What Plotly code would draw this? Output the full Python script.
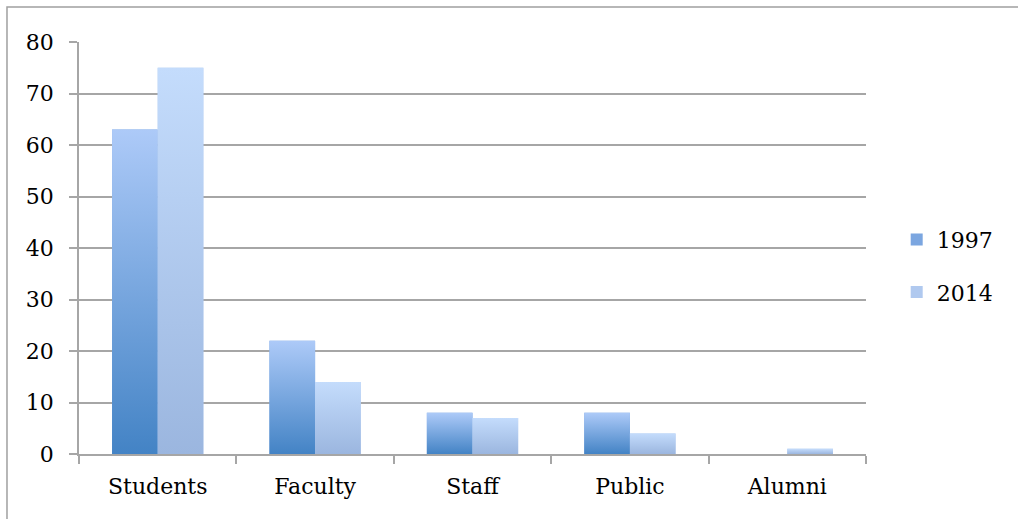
import plotly.graph_objects as go

categories = ["Students", "Faculty", "Staff", "Public", "Alumni"]
series_names = ["1997", "2014"]
values_1997 = [63, 22, 8, 8, 0]
values_2014 = [75, 14, 7, 4, 1]
y_ticks = [0, 10, 20, 30, 40, 50, 60, 70, 80]

FONT = "DejaVu Serif"
FS = 22
BAR_W = 0.29
grad = {
    "1997": ("#4383c5", "#adcaf8", "#7ba6e0"),
    "2014": ("#9bb6df", "#c4dcfc", "#b0c9ef"),
}
offsets = {"1997": -BAR_W, "2014": 0.0}

fig = go.Figure()
idx = list(range(len(categories)))

for name, vals in zip(series_names, [values_1997, values_2014]):
    bottom, top, mid = grad[name]
    fig.add_trace(go.Bar(
        x=idx, y=vals, name=name, width=BAR_W, offset=offsets[name],
        marker=dict(color=mid, line=dict(width=0)),
        legendgroup=name, hoverinfo="skip",
    ))
    for i, v in zip(idx, vals):
        if v <= 0:
            continue
        x0 = i + offsets[name]
        x1 = x0 + BAR_W
        fig.add_trace(go.Scatter(
            x=[x0, x1, x1, x0, x0], y=[0, 0, v, v, 0],
            mode="lines", line=dict(width=0), fill="toself",
            fillgradient=dict(type="vertical",
                              colorscale=[[0, bottom], [1, top]]),
            showlegend=False, hoverinfo="skip", legendgroup=name,
        ))

fig.update_layout(
    width=1018, height=519,
    margin=dict(l=79, r=152, t=42, b=65),
    paper_bgcolor="white", plot_bgcolor="white",
    font=dict(family=FONT, size=FS, color="black"),
    showlegend=True,
    legend=dict(x=1.039, xanchor="left", y=0.456, yanchor="middle",
                font=dict(family=FONT, size=FS, color="black"),
                tracegroupgap=21, traceorder="grouped",
                bgcolor="rgba(0,0,0,0)"),
    xaxis=dict(range=[-0.5, 4.5], tickvals=idx, ticktext=categories,
               ticks="", showgrid=False, zeroline=False,
               showline=True, linecolor="#a6a6a6", linewidth=1.5,
               ticklabelstandoff=12,
               minor=dict(tickvals=[-0.5, 0.5, 1.5, 2.5, 3.5, 4.5],
                          ticks="outside", ticklen=8, tickwidth=1.5,
                          tickcolor="#a6a6a6", showgrid=False),
               fixedrange=True),
    yaxis=dict(range=[0, 80], tickvals=y_ticks, ticks="outside",
               ticklen=8, tickwidth=1.5, tickcolor="#a6a6a6",
               showgrid=True, gridcolor="#a6a6a6", gridwidth=1.5,
               zeroline=False, showline=True, linecolor="#a6a6a6",
               linewidth=1.5, ticklabelstandoff=11, fixedrange=True),
    shapes=[dict(type="rect", xref="paper", yref="paper",
                 x0=-0.0915, x1=1.25, y0=-0.25, y1=1.085,
                 line=dict(color="#a0a0a0", width=1.5),
                 fillcolor="rgba(0,0,0,0)", layer="below")],
)

fig.write_html("out.html",
               config={"displayModeBar": False},
               post_script="document.body.style.margin='0';document.body.style.overflow='hidden';")
